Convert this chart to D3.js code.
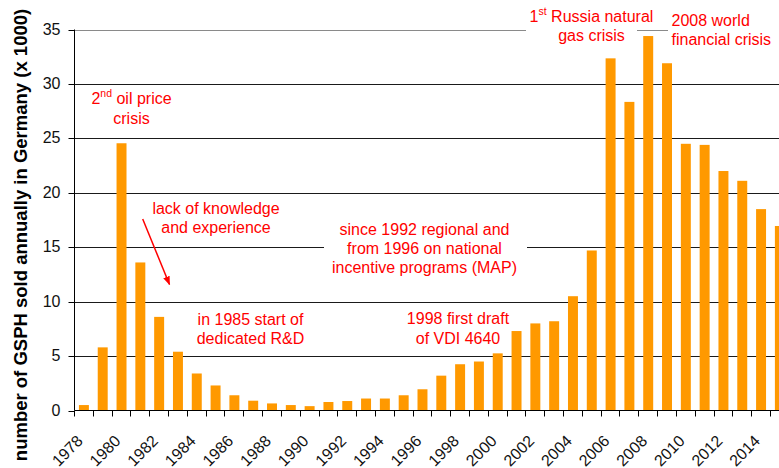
<!DOCTYPE html>
<html>
<head>
<meta charset="utf-8">
<script src="https://cdn.jsdelivr.net/npm/d3@7"></script>
<style>
  body { margin: 0; background: #fff; }
  svg { display: block; font-family: "Liberation Sans", Arial, sans-serif; }
</style>
</head>
<body>
<svg id="chart" width="779" height="468"></svg>
<script>
// years shown on the category axis (the 2015 bar is cut by the right edge)
const years = [1978, 1979, 1980, 1981, 1982, 1983, 1984, 1985, 1986, 1987,
               1988, 1989, 1990, 1991, 1992, 1993, 1994, 1995, 1996, 1997,
               1998, 1999, 2000, 2001, 2002, 2003, 2004, 2005, 2006, 2007,
               2008, 2009, 2010, 2011, 2012, 2013, 2014, 2015];

// GSPH sold per year, thousands
const sales = [0.5, 5.8, 24.55, 13.6, 8.6, 5.4, 3.4, 2.3, 1.4, 0.9,
               0.65, 0.5, 0.4, 0.78, 0.87, 1.1, 1.1, 1.4, 1.95, 3.2,
               4.25, 4.5, 5.25, 7.3, 8.0, 8.2, 10.5, 14.7, 32.35, 28.35,
               34.4, 31.9, 24.5, 24.4, 22.0, 21.1, 18.5, 16.95];

const yTicks = [0, 5, 10, 15, 20, 25, 30, 35];
const xLabelYears = [1978, 1980, 1982, 1984, 1986, 1988, 1990, 1992, 1994,
                     1996, 1998, 2000, 2002, 2004, 2006, 2008, 2010, 2012, 2014];

const yTitle = "number of GSPH sold annually in Germany (x 1000)";

const W = 779, H = 468;
const plotLeft = 74.5, plotBase = 410.5, plotTop = 29.5, step = 18.81;
const red = "#ff0000";

const svg = d3.select("#chart");

const x = d3.scaleBand()
    .domain(years)
    .range([plotLeft, plotLeft + step * years.length])
    .paddingInner(0.47)
    .paddingOuter(0.235);

const y = d3.scaleLinear()
    .domain([0, 35])
    .range([plotBase, plotTop]);

const crisp = v => Math.round(v) + 0.5;

// gridlines (top one is the grey plot border)
svg.append("g")
    .selectAll("line")
    .data(yTicks.filter(d => d > 0))
    .join("line")
    .attr("x1", plotLeft)
    .attr("x2", W)
    .attr("y1", d => crisp(y(d)))
    .attr("y2", d => crisp(y(d)))
    .attr("stroke", d => d === 35 ? "#8a8a8a" : "#1a1a1a")
    .attr("stroke-width", 1);

// white text boxes that hide the gridlines behind some notes
const boxes = [
    { x1: 324, x2: 527, y1: 220, y2: 280 },
    { x1: 526, x2: 637, y1: 4, y2: 48 },
    { x1: 668, x2: W, y1: 8, y2: 52 }
];
svg.append("g")
    .selectAll("rect")
    .data(boxes)
    .join("rect")
    .attr("x", d => d.x1)
    .attr("y", d => d.y1)
    .attr("width", d => d.x2 - d.x1)
    .attr("height", d => d.y2 - d.y1)
    .attr("fill", "#fff");

// bars
svg.append("g")
    .selectAll("rect")
    .data(years)
    .join("rect")
    .attr("x", d => x(d))
    .attr("y", (d, i) => y(sales[i]))
    .attr("width", x.bandwidth())
    .attr("height", (d, i) => y(0) - y(sales[i]))
    .attr("fill", "#ff9900");

// y axis
const yAxis = svg.append("g")
    .attr("transform", `translate(${plotLeft},0)`)
    .call(d3.axisLeft(y).tickValues(yTicks).tickSize(6).tickSizeOuter(0).tickPadding(8).offset(0));
yAxis.select(".domain").attr("stroke", "#000");
yAxis.selectAll(".tick line")
    .attr("stroke", "#000")
    .attr("transform", d => `translate(0,${crisp(y(d)) - y(d)})`);
yAxis.selectAll(".tick text")
    .attr("fill", "#111")
    .style("font-size", "16px")
    .style("font-family", "'Liberation Sans', Arial, sans-serif");

// x axis: line, ticks between categories, rotated labels under the bars
const xAxis = svg.append("g");
xAxis.append("line")
    .attr("x1", plotLeft).attr("x2", W)
    .attr("y1", plotBase).attr("y2", plotBase)
    .attr("stroke", "#000");

const gap = (x.step() - x.bandwidth()) / 2;
const bounds = years.map(d => x(d) - gap).concat([x(years[years.length - 1]) + x.bandwidth() + gap]);
xAxis.selectAll(".tk")
    .data(bounds)
    .join("line")
    .attr("class", "tk")
    .attr("x1", d => Math.floor(d) + 0.5)
    .attr("x2", d => Math.floor(d) + 0.5)
    .attr("y1", plotBase)
    .attr("y2", plotBase + 6)
    .attr("stroke", "#000");

xAxis.selectAll(".lbl")
    .data(xLabelYears)
    .join("text")
    .attr("class", "lbl")
    .attr("transform", d => `translate(${x(d) + x.bandwidth() / 2},442) rotate(-45)`)
    .attr("text-anchor", "end")
    .attr("fill", "#111")
    .style("font-size", "16px")
    .text(d => d);

// y title
svg.append("text")
    .attr("transform", "translate(26.5,235) rotate(-90)")
    .attr("text-anchor", "middle")
    .style("font-size", "18.5px")
    .style("font-weight", "bold")
    .attr("fill", "#000")
    .text(yTitle);

// annotations
function note(px, py, lines, anchor) {
    const t = svg.append("text")
        .attr("text-anchor", anchor || "middle")
        .attr("fill", red)
        .style("font-size", "16px");
    lines.forEach((ln, i) => {
        const parts = Array.isArray(ln) ? ln : [ln];
        let raised = false;
        parts.forEach((p, j) => {
            const sup = typeof p === "object";
            const ts = t.append("tspan").text(sup ? p.sup : p);
            if (j === 0) ts.attr("x", px).attr("y", py + i * 19.2);
            if (sup) {
                ts.attr("dy", -7).style("font-size", "10.5px");
                raised = true;
            } else if (raised) {
                ts.attr("dy", 7);
                raised = false;
            }
        });
    });
}

note(131.5, 104.3, [["2", { sup: "nd" }, " oil price"], "crisis"]);
note(216, 213.5, ["lack of knowledge", "and experience"]);
note(250.5, 325, ["in 1985 start of", "dedicated R&D"]);
note(424.5, 235, ["since 1992 regional and", "from 1996 on national", "incentive programs (MAP)"]);
note(458, 324.3, ["1998 first draft", "of VDI 4640"]);
note(591.5, 21.7, [["1", { sup: "st" }, " Russia natural"], "gas crisis"]);
note(671.5, 26, ["2008 world", "financial crisis"], "start");

// arrow from "lack of knowledge" note
const defs = svg.append("defs");
defs.append("marker")
    .attr("id", "arr")
    .attr("viewBox", "0 0 10 10")
    .attr("refX", 9)
    .attr("refY", 5)
    .attr("markerUnits", "userSpaceOnUse")
    .attr("markerWidth", 9)
    .attr("markerHeight", 9)
    .attr("orient", "auto")
    .append("path")
    .attr("d", "M0,1.2L10,5L0,8.8Z")
    .attr("fill", red);

svg.append("line")
    .attr("x1", 142.7).attr("y1", 219)
    .attr("x2", 169.5).attr("y2", 284.5)
    .attr("stroke", red)
    .attr("stroke-width", 1.5)
    .attr("marker-end", "url(#arr)");
</script>
</body>
</html>
